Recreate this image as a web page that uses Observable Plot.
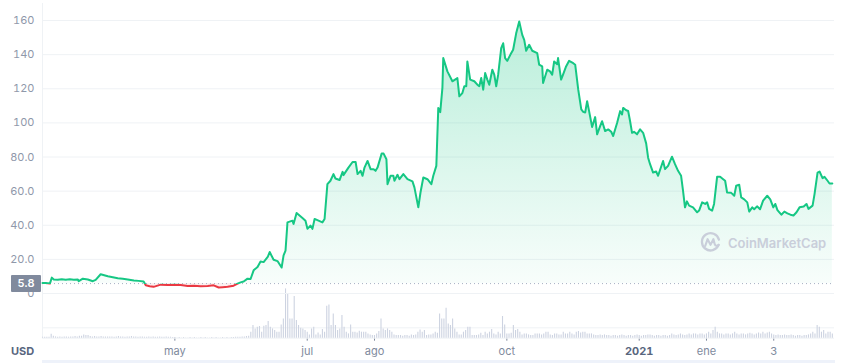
<!DOCTYPE html>
<html><head><meta charset="utf-8">
<script src="https://cdn.jsdelivr.net/npm/d3@7"></script>
<script src="https://cdn.jsdelivr.net/npm/@observablehq/plot@0.6"></script>
<style>
body{margin:0;background:#fff;font-family:Inter,sans-serif;}
#wrap{position:relative;width:850px;height:363px;overflow:hidden;background:#fff;}
#wrap svg{position:absolute;left:0;top:0;}
.abs{position:absolute;}
</style></head><body><div id="wrap"></div>
<script>
// ---- data ----
const startDate = "2020-03-01";
const endDate = "2021-03-01";
// days since startDate
const priceDay = [0,1.5,2.4,3.4,4.3,5.2,7.0,8.9,10.7,12.6,
14.4,16.3,16.7,18.6,20.9,23.2,24.5,26.8,30.1,32.4,
34.7,37.0,39.3,42.1,44.3,46.6,47.6,49.4,51.2,54.5,
57.7,60.9,63.7,66.9,69.7,72.9,76.1,78.9,81.2,83.0,
85.3,88.1,89.9,91.3,92.7,94.5,95.9,97.3,99.1,100.5,
101.9,103.8,104.7,106.5,108.3,110.2,111.1,112.0,112.9,115.2,
115.7,117.1,119.8,121.2,122.1,123.5,124.4,125.4,127.2,129.0,
130.0,131.3,132.7,134.1,135.0,136.9,138.3,138.7,141.0,142.9,
144.3,145.2,146.6,147.5,148.4,149.8,151.2,152.6,153.5,154.4,
156.3,157.2,158.5,159.0,160.4,161.7,162.2,163.6,164.5,166.3,
168.2,170.5,171.4,173.2,174.2,175.5,177.4,179.2,180.1,181.5,
182.4,183.3,184.3,184.7,186.6,188.9,191.2,192.1,193.5,194.4,
195.3,195.8,197.1,199.0,200.4,201.3,202.2,203.1,204.0,205.0,
205.9,207.3,208.2,209.1,210.0,211.4,212.3,213.2,214.2,215.6,
216.9,218.3,219.7,221.1,222.0,222.9,224.3,225.7,228.0,228.9,
230.3,230.7,232.6,233.9,234.9,235.8,237.2,237.6,239.0,239.9,
241.3,242.7,244.6,245.5,246.9,248.3,249.2,250.1,251.0,251.9,
253.3,254.7,255.6,257.0,257.9,259.3,260.7,262.1,263.0,264.8,
266.2,267.1,267.6,269.0,269.9,270.8,271.7,272.6,274.0,275.4,
276.8,278.2,279.1,280.0,281.4,282.8,283.7,286.0,286.9,288.3,
290.1,291.5,292.9,294.3,295.2,296.1,297.0,298.0,299.8,301.7,
302.6,304.0,305.4,306.3,307.2,308.6,309.5,310.9,312.3,313.7,
314.6,315.5,317.4,318.8,319.7,321.1,322.0,323.4,324.8,325.7,
327.1,328.0,329.3,330.7,332.1,334.0,335.4,336.8,337.7,338.7,
340.5,341.9,343.3,344.7,346.1,347.5,348.9,350.8,352.1,353.0,
354.9,355.8,357.2,358.1,359.5,360.4,361.8,362.7,364.0];
const priceUsd = [6.2,6.2,6.0,5.8,9.3,8.2,8.0,8.4,8.1,8.3,
8.0,8.2,7.2,8.7,8.2,7.2,8.0,11.3,10.1,9.5,
8.9,8.6,8.2,7.6,7.4,7.0,4.8,4.3,3.9,5.2,
5.0,5.1,5.0,4.4,4.5,4.2,4.4,4.8,3.5,3.7,
3.9,4.6,5.8,6.5,7.0,8.7,8.5,13.6,15.5,18.8,
18.4,21.4,24.3,19.8,19.0,15.2,22.3,25.2,41.7,42.7,
40.8,47.2,44.3,42.7,37.9,39.8,37.9,43.7,42.7,41.7,
43.7,64.1,66.1,70,67.4,66.5,71.3,69.4,73.8,77.1,
77.1,70,71.9,69,73.8,77.7,72.9,72.9,71.9,73.8,
82,82,78.7,64.1,69,69,66.1,69.6,67,70,
67,65.7,62.2,50.5,59.2,68,67,64.1,69,74.8,
108.8,106.3,120.5,138,130.2,124.4,126.3,115.6,117.5,121.5,
121.5,136,125.4,124.4,122.4,121.5,126.3,119.5,129.2,125.4,
122.4,131.2,128.3,121.5,128.3,143.8,146.7,138,136.4,139.9,
142.9,152.5,159.4,151.6,148.7,142.3,145.8,142.3,140.9,134.1,
133.1,123.4,131.2,130.2,128.3,136,134.4,138,125.4,128.3,
133.1,136.4,135,134.1,119.5,107.9,106.5,106.1,112.7,106.9,
97.6,103.4,93.3,98.1,101,95.2,96.2,94.8,92.3,100,
106.9,105,108.8,107.4,107,101,94.2,94.8,93.3,96.2,
94.2,88,79.6,75.8,70.9,71.5,69,77.7,72.9,74.8,
80.2,75.8,71.9,69,60.2,50.5,54,51.5,50.5,47.6,
48.6,53.4,52.5,53.4,49.6,48.6,52.5,68.4,68.4,67,
66.1,59.2,59,57.3,63.2,63.7,56.3,55.2,53.4,48,
50.5,49.4,51.1,49.4,54.4,57.3,55.2,50.5,52.5,48.9,
46.2,48,47,46.2,45.7,47.6,50.5,51,52.5,49.6,
51.5,58.3,70.9,71.5,67.6,68.4,66.1,64.5,64.5];
// daily volume (relative units), day 0 .. 364
const volumeDaily = [1,1,1,1,4,2,
1.3,1,1.3,1,1.3,1.3,1,1.3,1.3,1.7,1.3,2,
2,3.3,2.7,2.7,1.7,
1.3,1.7,1.3,1.3,1.7,1.3,1.3,1.3,
1.3,1.3,1,1.3,1.7,1.3,1.3,1,1.3,1.3,1.7,1.3,1.3,1,1.3,
1.3,1,1,1.3,1,1.3,1,1,1.3,1,1,1.3,1,1,0.7,
0.7,0.3,0.7,0.3,0.7,0.3,0.3,0.7,0.3,0.7,0.3,0.3,0.7,0.3,0.7,0.3,0.3,0.7,0.3,0.7,0.3,0.3,0.7,0.3,0.7,0.3,0.7,0.7,1,
1,1,1.3,1.3,1.7,2,
6,12.7,9.3,11,11.7,6,12,12.7,16.7,11,9.3,7.7,6,6,13.3,19.3,49.3,44.3,19.3,19.3,
41.7,17.7,12.7,10,9.3,7.7,6,3.3,9.3,11,3.3,5.3,3.3,8.7,6,32,33.3,12.7,24.3,12.7,
7.7,9.3,22.7,11,6,4.3,13.3,6,6,5.3,7,6,6,6,4.3,3.3,2.7,2.7,4.3,6.7,
19.3,9.3,7.7,9.3,7.7,6,3.3,2.7,2.7,2.7,2,2.7,2.7,2,3.3,2.7,3.3,6,8.3,6,
7.7,2.7,3.3,3.3,4.3,6,5,
24.3,19.3,19.3,30,14.3,12.7,19.3,9.3,6,3.3,3.3,6,7.7,11,11,2.7,2.7,2.7,3.3,5,
2.7,6,4.3,6,8.7,4.3,3.3,6,4.3,21.7,13.3,4.3,4.3,5,12.7,7.7,8.7,6,3.3,
4.3,4.3,3.3,2.7,2.7,4.3,4.3,4.3,3.3,
4.3,6,6,3.3,2.7,4.3,4.3,3.3,3.3,6,
4.3,4.3,6,4.3,3.3,
6,6.7,5.3,6,6,4.3,
4.3,4.3,3.3,2.7,2.7,3.3,2.7,3.3,2.7,
2.7,2,2.7,2.7,2,2.7,3.3,2.7,2,2.7,2.7,2,2.7,3.3,2.7,2,2.7,2.7,3.3,3.3,
2.7,2,2.7,2.7,2,2.7,2.7,2,2.7,4.3,3.3,2.7,3.3,4.3,3.3,2.7,3.3,4.3,3.3,4.3,
4.3,3.3,4.3,4.3,3.3,4.3,6,4.3,7.7,11,6,4.3,4.3,3.3,4.3,4.3,3.3,4.3,6,4.3,
3.3,4.3,4.3,3.3,4.3,5,4.3,3.3,4.3,5.3,4.3,6,4.3,5.3,6,4.3,3.3,2.7,3.3,2.7,2.7,3.3,2.7,2.7,3.3,
2.7,2,2.7,2.7,2,2.7,2.7,3.3,4.3,6,4.3,12.7,11,6,7.7,4.3,6,6,4.3];
const baselinePrice = 5.8;
const yTicks = [0,20,40,60,80,100,120,140,160];
const yTickLabels = ["0","20.0","40.0","60.0","80.0","100","120","140","160"];
const xTickDates = ["2020-05-01","2020-07-01","2020-08-01","2020-10-01","2020-12-01","2021-01-01","2021-02-01"];
const xTickLabels = ["may","jul","ago","oct","2021","ene","3"];
const volumeGrid = [10.4];
const currencyLabel = "USD";
const watermark = "CoinMarketCap";

if (priceDay.length !== priceUsd.length) throw new Error("len mismatch " + priceDay.length + " " + priceUsd.length);
if (volumeDaily.length !== 365) throw new Error("vol len " + volumeDaily.length);

// ---- build ----
const t0 = new Date(startDate + "T00:00:00Z").getTime();
const toDate = d => new Date(t0 + d * 864e5);
const price = priceDay.map((d, i) => ({date: toDate(d), v: priceUsd[i]}));
const volume = volumeDaily.map((v, i) => ({date: toDate(i), v}));
const W = 850, H = 363;
const xDom = [new Date(startDate + "T00:00:00Z"), new Date(endDate + "T00:00:00Z")];
const tickDates = xTickDates.map(s => new Date(s + "T00:00:00Z"));
const baseStyle = {background: "transparent", fontFamily: "Inter, sans-serif", fontSize: "11px", overflow: "visible"};
const GRID = "#eff2f5";

const volPlot = Plot.plot({
  width: W, height: H, marginLeft: 42, marginRight: 16, marginTop: 287.7, marginBottom: 25.3,
  style: {...baseStyle, color: "#808a9d"},
  x: {type: "utc", domain: xDom, ticks: tickDates, tickSize: 3, tickPadding: 6,
      tickFormat: d => xTickLabels[tickDates.findIndex(t => +t === +d)], label: null},
  y: {domain: [0, 50], axis: null},
  marks: [
    Plot.ruleY(volumeGrid, {stroke: GRID}),
    Plot.ruleY([0], {stroke: GRID}),
    Plot.ruleX([xDom[0]], {stroke: GRID}),
    Plot.ruleX(volume, {x: "date", y1: 0, y2: "v", stroke: "#cdd3e1", strokeWidth: 1.1})
  ]
});

const pricePlot = Plot.plot({
  width: W, height: H, marginLeft: 42, marginRight: 16, marginTop: 3, marginBottom: 70,
  style: {...baseStyle, color: "#8f98aa"},
  x: {type: "utc", domain: xDom, axis: null},
  y: {domain: [0, 170], ticks: yTicks, tickSize: 0, tickPadding: 8, label: null,
      tickFormat: d => yTickLabels[yTicks.indexOf(d)]},
  marks: [
    Plot.ruleY(yTicks, {stroke: GRID}),
    Plot.ruleX([xDom[0]], {stroke: GRID}),
    Plot.areaY(price, {x: "date", y1: () => baselinePrice, y2: "v", fill: "url(#cmcFill)"}),
    Plot.ruleY([baselinePrice], {stroke: "#a6b0c3", strokeDasharray: "1,3"}),
    Plot.line(price, {x: "date", y: "v", stroke: "url(#cmcStroke)", strokeWidth: 2})
  ]
});

// gradients: green above the baseline price, red below
const ys = pricePlot.scale("y");
const yb = ys.apply(baselinePrice);
const yTop = ys.apply(yTicks[yTicks.length - 1]);
const defs = d3.select(pricePlot).insert("defs", ":first-child");
const sg = defs.append("linearGradient").attr("id", "cmcStroke").attr("gradientUnits", "userSpaceOnUse")
  .attr("x1", 0).attr("x2", 0).attr("y1", 0).attr("y2", H);
sg.append("stop").attr("offset", yb / H).attr("stop-color", "#16c784");
sg.append("stop").attr("offset", yb / H).attr("stop-color", "#ea3943");
const fg = defs.append("linearGradient").attr("id", "cmcFill").attr("gradientUnits", "userSpaceOnUse")
  .attr("x1", 0).attr("x2", 0).attr("y1", 0).attr("y2", H);
fg.append("stop").attr("offset", yTop / H).attr("stop-color", "#16c784").attr("stop-opacity", 0.3);
fg.append("stop").attr("offset", yb / H).attr("stop-color", "#16c784").attr("stop-opacity", 0.03);
fg.append("stop").attr("offset", yb / H).attr("stop-color", "#ea3943").attr("stop-opacity", 0.08);
fg.append("stop").attr("offset", 1).attr("stop-color", "#ea3943").attr("stop-opacity", 0.08);

d3.select(volPlot).selectAll("text").filter(function() { return this.textContent === "2021"; })
  .attr("font-weight", "bold").attr("fill", "#58667e");

const wrap = document.getElementById("wrap");
wrap.appendChild(volPlot);
wrap.appendChild(pricePlot);

// baseline price badge
const badge = document.createElement("div");
badge.className = "abs";
badge.textContent = baselinePrice.toFixed(1);
Object.assign(badge.style, {left: "11px", top: (yb - 8.5) + "px", width: "30px", height: "17px", lineHeight: "17px",
  background: "#808a9d", color: "#fff", fontSize: "11px", fontWeight: "600", textAlign: "center", borderRadius: "1px"});
wrap.appendChild(badge);

// currency label
const usd = document.createElement("div");
usd.className = "abs";
usd.textContent = currencyLabel;
Object.assign(usd.style, {left: "11px", top: "344px", fontSize: "11px", fontWeight: "700", color: "#58667e"});
wrap.appendChild(usd);

// watermark
const wm = document.createElement("div");
wm.className = "abs";
Object.assign(wm.style, {left: "699px", top: "231px", display: "flex", alignItems: "center", gap: "6px",
  color: "#c9ceda", fontSize: "13px", fontWeight: "600"});
wm.innerHTML = '<svg width="23" height="23" viewBox="0 0 24 24" style="position:static"><path d="M20.5 14.5 A9 9 0 1 1 20.8 9" fill="none" stroke="#c9ceda" stroke-width="2.4" stroke-linecap="round"/><path d="M6.5 15.5 L9 8.5 L12 14.5 L15 8.5 L16.5 14 Q17.5 16.5 20.5 14.5" fill="none" stroke="#c9ceda" stroke-width="2.2" stroke-linejoin="round" stroke-linecap="round"/></svg><span>' + watermark + '</span>';
wrap.appendChild(wm);

// bottom strip
const strip = document.createElement("div");
strip.className = "abs";
Object.assign(strip.style, {left: "42px", top: "360px", width: "793px", height: "3px", background: "#eef2fa"});
wrap.appendChild(strip);
</script>
</body></html>
